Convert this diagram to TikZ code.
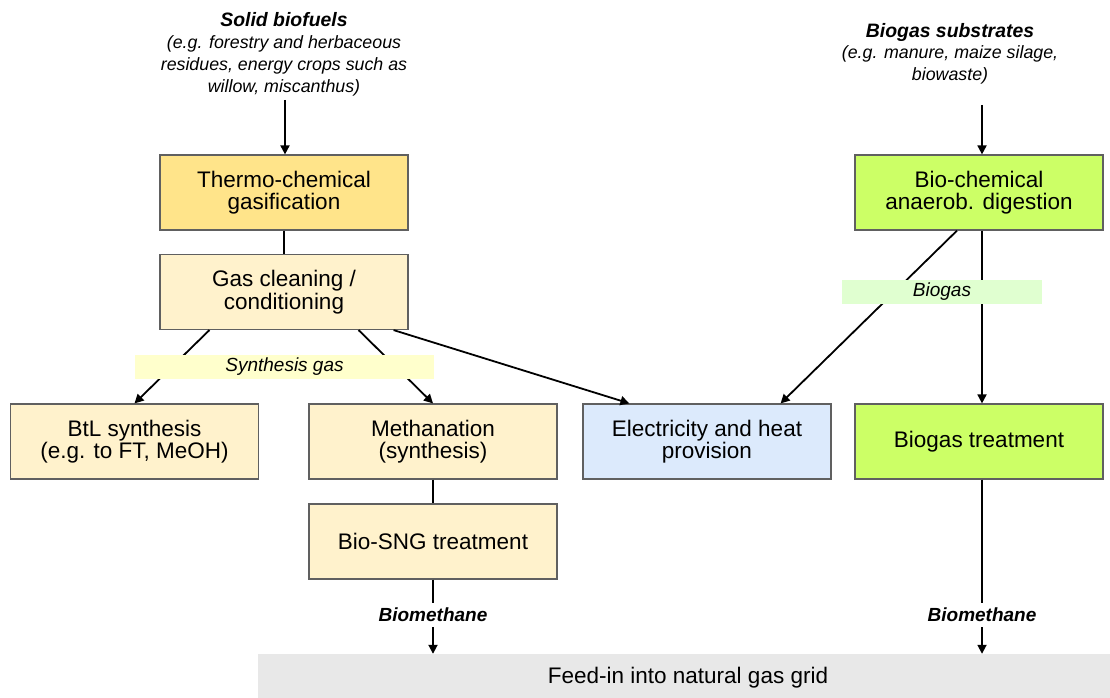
\documentclass[tikz,border=0pt]{standalone}
\usepackage{fontspec}
\setmainfont{Liberation Sans}
\usepackage{xcolor}
\usetikzlibrary{arrows.meta, positioning}
\definecolor{thermo-yellow}{RGB}{255,228,138}
\definecolor{clean-cream}{RGB}{255,242,204}
\definecolor{power-blue}{RGB}{220,234,252}
\definecolor{bio-green}{RGB}{204,255,102}
\definecolor{syn-band}{RGB}{255,255,204}
\definecolor{gas-band}{RGB}{224,255,208}
\definecolor{grid-gray}{RGB}{232,232,232}
\definecolor{box-edge}{RGB}{96,96,96}

\begin{document}
\begin{tikzpicture}[
  x=1pt, y=-1pt,
  every node/.style={align=center, font=\fontsize{22.5}{22.5}\selectfont},
  procbox/.style={draw=box-edge, line width=1.2pt, minimum width=248pt, minimum height=75pt, inner sep=0pt},
  srchead/.style={font=\fontsize{19.4}{22}\selectfont\bfseries\itshape},
  srcsub/.style={font=\fontsize{17.8}{22}\selectfont\itshape},
  band/.style={minimum height=24pt, inner sep=0pt, font=\fontsize{19}{20}\selectfont\itshape},
  outlabel/.style={font=\fontsize{19}{20}\selectfont\bfseries\itshape, inner sep=5pt},
  flow/.style={draw, line width=1.8pt, -{Triangle[length=9pt,width=9pt]}},
  link/.style={draw, line width=1.8pt},
]
  \useasboundingbox (0,0) rectangle (1110,698);

  % feedstocks
  \node[srchead] (solid) at (284,20) {Solid biofuels};
  \node[srcsub] (solidsub) at (284,66) {(e.g. forestry and herbaceous\\residues, energy crops such as\\willow, miscanthus)};
  \node[srchead] (substr) at (950,32) {Biogas substrates};
  \node[srcsub] (substrsub) at (950,65) {(e.g. manure, maize silage,\\biowaste)};
  \coordinate (solidin) at (285,100);
  \coordinate (substrin) at (982,105);

  % conversion steps
  \node[procbox, fill=thermo-yellow] (thermo) at (284,192.5) {Thermo-chemical\\gasification};
  \node[procbox, fill=clean-cream] (gasclean) at (284,292) {Gas cleaning /\\conditioning};
  \node[procbox, fill=clean-cream] (btl) at (134.5,441.5) {BtL synthesis\\(e.g. to FT, MeOH)};
  \node[procbox, fill=clean-cream] (methan) at (433,441.5) {Methanation\\(synthesis)};
  \node[procbox, fill=clean-cream] (sng) at (433,541.5) {Bio-SNG treatment};
  \node[procbox, fill=power-blue] (chp) at (707,441.5) {Electricity and heat\\provision};
  \node[procbox, fill=bio-green] (digest) at (979,192.5) {Bio-chemical\\anaerob. digestion};
  \node[procbox, fill=bio-green] (upgrade) at (979,441.5) {Biogas treatment};
  \node[fill=grid-gray, minimum width=852pt, minimum height=44pt, inner sep=0pt] (grid) at (684,676) {};
  \node (gridtext) at (688,678) {Feed-in into natural gas grid};

  % connectors
  \draw[flow] (solidin) -- (solidin |- thermo.north);
  \draw[flow] (substrin) -- (substrin |- digest.north);
  \draw[link] (thermo) -- (gasclean);
  \draw[flow] ([xshift=50pt]gasclean.south west) -- (btl.north);
  \draw[flow] ([xshift=-50pt]gasclean.south east) -- (methan.north);
  \draw[flow] ([xshift=-15pt]gasclean.south east) -- ([xshift=47pt]chp.north west);
  \draw[flow] ([xshift=-22pt]digest.south) -- ([xshift=-51pt]chp.north east);
  \draw[flow] ([xshift=3pt]digest.south) -- ([xshift=3pt]upgrade.north);
  \draw[link] (methan) -- (sng);

  % gas labels
  \node[band, fill=syn-band, minimum width=299pt] (syngas) at (284.5,367) {Synthesis gas};
  \node[band, fill=gas-band, minimum width=200pt] (biogas) at (942,292) {Biogas};

  % biomethane to grid
  \node[outlabel] (bmleft) at (433,615) {Biomethane};
  \node[outlabel] (bmright) at (982,615) {Biomethane};
  \draw[link] (sng.south) -- (bmleft.north);
  \draw[flow] (bmleft.south) -- (bmleft.south |- grid.north);
  \draw[link] ([xshift=3pt]upgrade.south) -- (bmright.north);
  \draw[flow] (bmright.south) -- (bmright.south |- grid.north);
\end{tikzpicture}
\end{document}
